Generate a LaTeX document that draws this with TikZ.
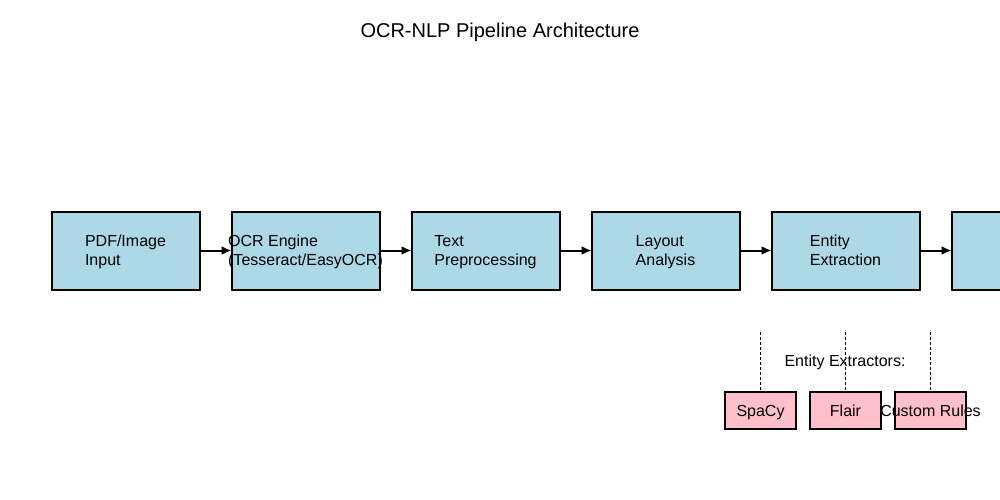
\documentclass[tikz,border=0pt]{standalone}
\usepackage{fontspec}
\setmainfont{Liberation Sans}
\usetikzlibrary{arrows.meta}
\definecolor{stagefill}{HTML}{ADD8E6}
\definecolor{toolfill}{HTML}{FFC0CB}
\tikzset{
    stage/.style = {draw, line width = 2pt, fill = stagefill, minimum width = 148pt, minimum height = 78pt, inner sep = 0pt},
    stagetext/.style = {align = left, inner sep = 0pt, yshift = -2pt, font = \fontsize{16}{19}\selectfont},
    tool/.style = {draw, line width = 2pt, fill = toolfill, minimum width = 71pt, minimum height = 37pt, inner sep = 0pt},
    tooltext/.style = {inner sep = 0pt, yshift = -2.5pt, font = \fontsize{16}{19}\selectfont},
    flow/.style = {line width = 2pt, -{Latex[length = 10pt, width = 9pt]}, shorten >= -1pt},
    feed/.style = {line width = 0.8pt, dash pattern = on 3pt off 2pt}
}
\begin{document}
\begin{tikzpicture}[x = 1pt, y = -1pt]
            \useasboundingbox (0, 0) rectangle (1000, 500);
            \clip (0, 0) rectangle (1000, 500);
            \node [font = \fontsize{20}{24}\selectfont, inner sep = 0pt, yshift = -3pt] (title) at (500, 30) {OCR-NLP Pipeline Architecture\strut};

            % pipeline stages
            \node [stage] (input) at (125.5, 250.5) {};
            \node [stage] (ocr) at (305.5, 250.5) {};
            \node [stage] (prep) at (485.5, 250.5) {};
            \node [stage] (layout) at (665.5, 250.5) {};
            \node [stage] (entity) at (845.5, 250.5) {};
            \node [stage] (output) at (1025.5, 250.5) {};
            \node [stagetext] (inputtxt) at (input) {PDF/Image\strut\\Input\strut};
            \node [stagetext] (ocrtxt) at (ocr) {OCR Engine\strut\\(Tesseract/EasyOCR)\strut};
            \node [stagetext] (preptxt) at (prep) {Text\strut\\Preprocessing\strut};
            \node [stagetext] (layouttxt) at (layout) {Layout\strut\\Analysis\strut};
            \node [stagetext] (entitytxt) at (entity) {Entity\strut\\Extraction\strut};

            \draw [flow] (input) -- (ocr);
            \draw [flow] (ocr) -- (prep);
            \draw [flow] (prep) -- (layout);
            \draw [flow] (layout) -- (entity);
            \draw [flow] (entity) -- (output);

            % extractors
            \node [tooltext] (extractors) at (845, 360) {Entity Extractors:\strut};
            \node [tool] (spacy) at (760.5, 410.5) {};
            \node [tool] (flair) at (845.5, 410.5) {};
            \node [tool] (rules) at (930.5, 410.5) {};
            \node [tooltext] (spacytxt) at (spacy) {SpaCy\strut};
            \node [tooltext] (flairtxt) at (flair) {Flair\strut};
            \node [tooltext] (rulestxt) at (rules) {Custom Rules\strut};
            \coordinate (spacytop) at (760.5, 332);
            \coordinate (flairtop) at (845.5, 332);
            \coordinate (rulestop) at (930.5, 332);
            \draw [feed] (spacytop) -- (spacy.north);
            \draw [feed] (flairtop) -- (flair.north);
            \draw [feed] (rulestop) -- (rules.north);
        \end{tikzpicture}
\end{document}
